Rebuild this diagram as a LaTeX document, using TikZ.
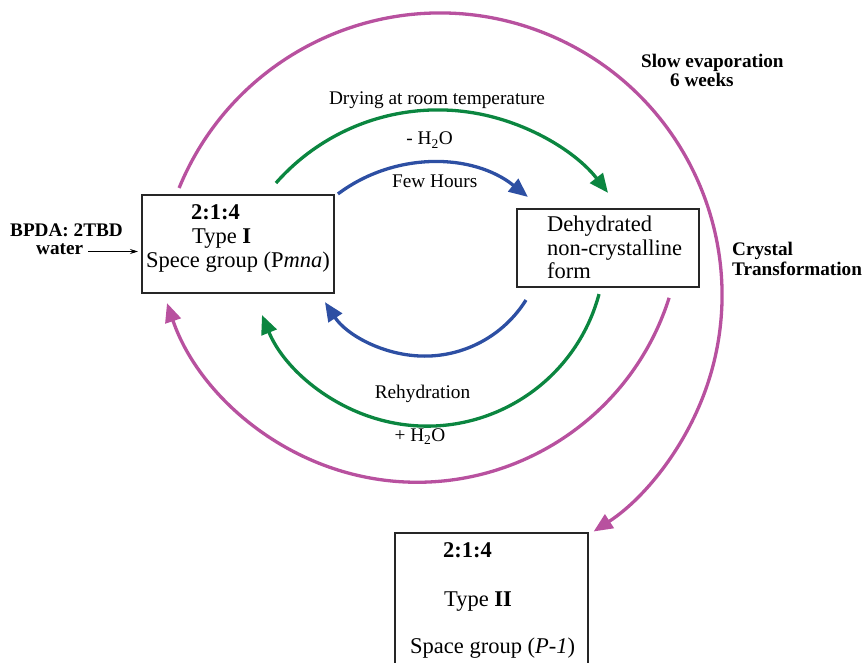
\documentclass[tikz,border=0pt]{standalone}
\usepackage{fontspec}
\setmainfont{Liberation Serif}
\usetikzlibrary{arrows.meta}
\definecolor{magflow}{HTML}{B8519F}
\definecolor{greenflow}{HTML}{0B8640}
\definecolor{blueflow}{HTML}{2D4FA3}
\begin{document}
\begin{tikzpicture}[x=1pt,y=1pt,
  box/.style={draw=black!85, line width=1.1pt, inner sep=0pt},
  big/.style={font=\fontsize{22.5}{24}\selectfont, inner sep=0pt},
  small/.style={font=\fontsize{19.3}{21}\selectfont, inner sep=0pt},
  bflab/.style={font=\fontsize{19.2}{20}\selectfont\bfseries, inner sep=0pt},
  flow/.style={line width=3.3pt, -{Triangle[length=19pt,width=16pt]}},
  feed/.style={line width=0.8pt, -{Stealth[length=8pt,width=5pt]}},
]
\useasboundingbox (0,0) rectangle (867,-663);
\clip (0,0) rectangle (867,-663);

% the three forms
\node[box, minimum width=192pt, minimum height=98pt] (typeI) at (238,-244) {};
\node[box, minimum width=182pt, minimum height=78pt] (dehyd) at (608,-248) {};
\node[box, minimum width=193pt, minimum height=167pt] (typeII) at (491.5,-616.5) {};

\node[big, anchor=base west] (tIa) at (191,-219) {\textbf{2:1:4}};
\node[big, anchor=base west] (tIb) at (192,-243) {Type \textbf{I}};
\node[big, anchor=base west] (tIc) at (146,-267) {Spece group (P\textit{mna})};

\node[big, anchor=base west] (dha) at (547,-232) {Dehydrated};
\node[big, anchor=base west] (dhb) at (547,-255) {non-crystalline};
\node[big, anchor=base west] (dhc) at (547,-278) {form};

\node[big, anchor=base west] (tIIa) at (443,-557) {\textbf{2:1:4}};
\node[big, anchor=base west] (tIIb) at (444,-606) {Type \textbf{II}};
\node[big, anchor=base west] (tIIc) at (410,-653) {Space group (\textit{P-1})};

% starting material
\node[bflab, anchor=base west] (bpda) at (10,-236.5) {BPDA: 2TBD};
\node[bflab, anchor=base west] (water) at (36,-254) {water};
\coordinate (feedA) at (88,-251.5);
\coordinate (feedB) at (138,-251.5);
\draw[feed] (feedA) -- (feedB);

% arc centres
\coordinate (cMo) at (440,-295);
\coordinate (cMi) at (417.2,-217.9);
\coordinate (cGu) at (437.9,-325.8);
\coordinate (cGl) at (427,-248);
\coordinate (cBu) at (431,-317.9);
\coordinate (cBl) at (424.8,-236.8);

% arc start points
\path (cMo) ++(157.7:282) coordinate (mo0);
\path (cMi) ++(-17.6:264.3) coordinate (mi0);
\path (cGu) ++(138.6:215.9) coordinate (gu0);
\path (cGl) ++(-15:178.1) coordinate (gl0);
\path (cBu) ++(126.9:155) coordinate (bu0);
\path (cBl) ++(-32:119.3) coordinate (bl0);

% transformations
\draw[flow, magflow] (mo0) arc[start angle=157.7, end angle=-57, radius=282pt];
\draw[flow, magflow] (mi0) arc[start angle=-17.6, end angle=-161.2, radius=264.3pt];
\draw[flow, greenflow] (gu0) arc[start angle=138.6, end angle=38, radius=215.9pt];
\draw[flow, greenflow] (gl0) arc[start angle=-15, end angle=-157.9, radius=178.1pt];
\draw[flow, blueflow] (bu0) arc[start angle=126.9, end angle=51.3, radius=155pt];
\draw[flow, blueflow] (bl0) arc[start angle=-32, end angle=-146.8, radius=119.3pt];

% labels
\node[small, anchor=base] (dry) at (437,-105) {Drying at room temperature};
\node[small, anchor=base] (minus) at (429.5,-145) {- H\textsubscript{2}O};
\node[small, anchor=base] (few) at (434.7,-187.3) {Few Hours};
\node[small, anchor=base] (rehyd) at (422.5,-398) {Rehydration};
\node[small, anchor=base] (plus) at (420,-441.7) {+ H\textsubscript{2}O};

\node[bflab, anchor=base west] (slow) at (641,-68) {Slow evaporation};
\node[bflab, anchor=base west] (weeks) at (670,-87) {6 weeks};
\node[bflab, anchor=base west] (cryst) at (732,-255) {Crystal};
\node[bflab, anchor=base west] (trans) at (732,-275) {Transformation};
\end{tikzpicture}
\end{document}
